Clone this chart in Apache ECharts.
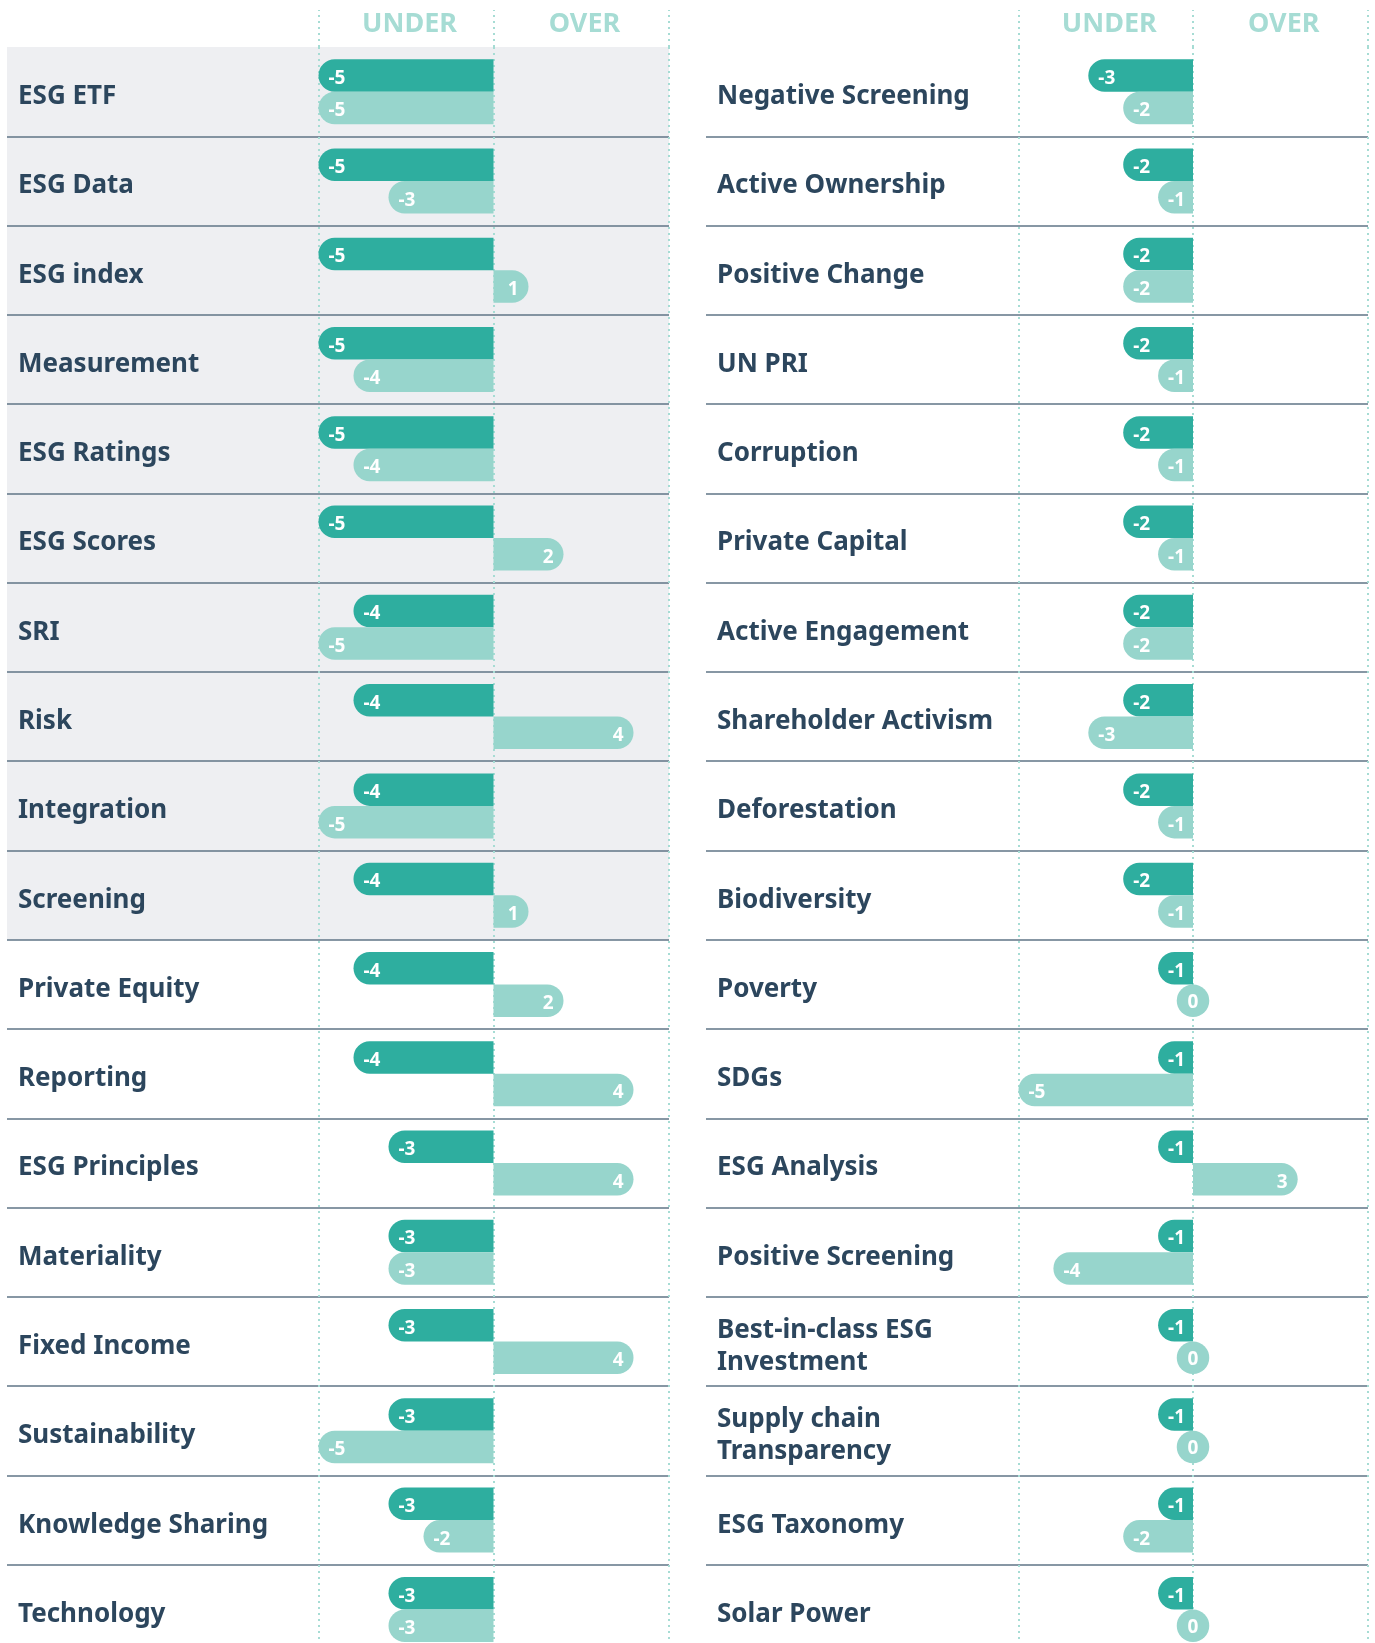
<!DOCTYPE html>
<html>
<head>
<meta charset="utf-8">
<title>Under / Over</title>
<script src="https://cdn.jsdelivr.net/npm/echarts@6/dist/echarts.min.js"></script>
<style>
html, body { margin: 0; padding: 0; background: #ffffff; }
#main { width: 1375px; height: 1643px; }
</style>
</head>
<body>
<div id="main"></div>
<script>
var leftCategories = ['ESG ETF', 'ESG Data', 'ESG index', 'Measurement', 'ESG Ratings', 'ESG Scores',
	'SRI', 'Risk', 'Integration', 'Screening', 'Private Equity', 'Reporting', 'ESG Principles',
	'Materiality', 'Fixed Income', 'Sustainability', 'Knowledge Sharing', 'Technology'];
var leftTop = [-5, -5, -5, -5, -5, -5, -4, -4, -4, -4, -4, -4, -3, -3, -3, -3, -3, -3];
var leftBottom = [-5, -3, 1, -4, -4, 2, -5, 4, -5, 1, 2, 4, 4, -3, 4, -5, -2, -3];

var rightCategories = ['Negative Screening', 'Active Ownership', 'Positive Change', 'UN PRI', 'Corruption',
	'Private Capital', 'Active Engagement', 'Shareholder Activism', 'Deforestation', 'Biodiversity',
	'Poverty', 'SDGs', 'ESG Analysis', 'Positive Screening', 'Best-in-class ESG\nInvestment',
	'Supply chain\nTransparency', 'ESG Taxonomy', 'Solar Power'];
var rightTop = [-3, -2, -2, -2, -2, -2, -2, -2, -2, -2, -1, -1, -1, -1, -1, -1, -1, -1];
var rightBottom = [-2, -1, -2, -1, -1, -1, -2, -3, -1, -1, 0, -5, 3, -4, 0, 0, -2, 0];

var headerLabels = {'-2.5': 'UNDER', '2.5': 'OVER'};
var shadedRows = 10;	// left panel: first rows sit on grey

var dark = '#2eae9f';
var light = '#97d5cc';
var textColor = '#2c465d';
var dotColor = '#a6dcd4';
var ruleColor = '#5f7486';
var font = 'Noto Sans';

var rowH = 89.28;
var barH = 32.5;
var r = barH / 2;
var gridH = rowH * 18;

function barData(values) {
	return values.map(function(v) {
		return {
			value: v,
			itemStyle: { borderRadius: v < 0 ? [r, 0, 0, r] : [0, r, r, 0] },
			label: { show: v !== 0, position: v < 0 ? 'insideLeft' : 'insideRight' }
		};
	});
}

function zeroData(values) {
	var out = [];
	for (var i = 0; i < values.length; i++) {
		if (values[i] === 0) out.push([0, i]);
	}
	return out;
}

var areaColors = [];
for (var i = 0; i < leftCategories.length; i++) {
	areaColors.push(i < shadedRows ? '#eeeff2' : 'rgba(0,0,0,0)');
}

var barLabel = {
	show: true,
	color: '#ffffff',
	fontFamily: font,
	fontWeight: 'bold',
	fontSize: 19,
	distance: 10,
	offset: [0, 3]
};

function frameY(grid, cats, shaded) {
	return {
		gridIndex: grid,
		type: 'category',
		data: cats,
		inverse: true,
		z: -1,
		axisLine: { show: false },
		axisTick: { show: false },
		axisLabel: {
			inside: true,
			interval: 0,
			margin: 11,
			formatter: function(v) {
				return v.split('\n').map(function(s) { return '{t|' + s + '}'; }).join('\n');
			},
			rich: {
				t: {
					color: textColor,
					fontFamily: font,
					fontWeight: 'bold',
					fontSize: 26,
					lineHeight: 32,
					padding: [10, 0, 0, 0]
				}
			}
		},
		splitLine: {
			show: true,
			interval: 0,
			showMinLine: false,
			lineStyle: { color: ruleColor, width: 1.5 }
		},
		splitArea: {
			show: shaded,
			interval: 0,
			areaStyle: { color: areaColors }
		}
	};
}

function barsY(grid, cats) {
	return { gridIndex: grid, type: 'category', data: cats, inverse: true, show: false };
}

function frameX(grid) {
	return { gridIndex: grid, type: 'value', min: 0, max: 1, show: false };
}

function dotX(grid) {
	return {
		gridIndex: grid,
		type: 'value',
		position: 'top',
		min: -5,
		max: 5,
		interval: 5,
		z: 1,
		axisLine: { show: false },
		axisLabel: { show: false },
		axisTick: {
			show: true,
			length: 37,
			lineStyle: { color: dotColor, width: 2, type: [2, 4] }
		},
		splitLine: {
			show: true,
			lineStyle: { color: dotColor, width: 2, type: [2, 4] }
		}
	};
}

function headX(grid) {
	return {
		gridIndex: grid,
		type: 'value',
		position: 'top',
		min: -5,
		max: 5,
		interval: 2.5,
		axisLine: { show: false },
		axisTick: { show: false },
		splitLine: { show: false },
		axisLabel: {
			margin: 9,
			padding: [0, 0, 0, 7],
			color: dotColor,
			fontFamily: font,
			fontWeight: 'bold',
			fontSize: 27,
			formatter: function(v) { return headerLabels[String(v)] || ''; }
		}
	};
}

function barSeries(xi, yi, values, color) {
	return {
		type: 'bar',
		xAxisIndex: xi,
		yAxisIndex: yi,
		barWidth: barH,
		barGap: '0%',
		itemStyle: { color: color },
		label: barLabel,
		data: barData(values)
	};
}

function grid(left, width) {
	return { left: left, top: 47, width: width, height: gridH, outerBoundsMode: 'none', containLabel: false };
}

var myChart = echarts.init(document.getElementById('main'));
var option = {
	animation: false,
	grid: [grid(7, 662), grid(318.5, 350), grid(706, 662), grid(1018.5, 349)],
	xAxis: [frameX(0), dotX(1), headX(1), frameX(2), dotX(3), headX(3)],
	yAxis: [frameY(0, leftCategories, true), barsY(1, leftCategories),
		frameY(2, rightCategories, false), barsY(3, rightCategories)],
	series: [
		barSeries(1, 1, leftTop, dark),
		barSeries(1, 1, leftBottom, light),
		barSeries(4, 3, rightTop, dark),
		barSeries(4, 3, rightBottom, light),
		{
			type: 'scatter',
			xAxisIndex: 4,
			yAxisIndex: 3,
			symbolSize: barH,
			symbolOffset: [0, barH / 2],
			itemStyle: { color: light, opacity: 1 },
			label: {
				show: true,
				position: 'inside',
				offset: [0, 2],
				color: '#ffffff',
				fontFamily: font,
				fontWeight: 'bold',
				fontSize: 19,
				formatter: '0'
			},
			data: zeroData(rightBottom)
		}
	]
};
myChart.setOption(option);
</script>
</body>
</html>
